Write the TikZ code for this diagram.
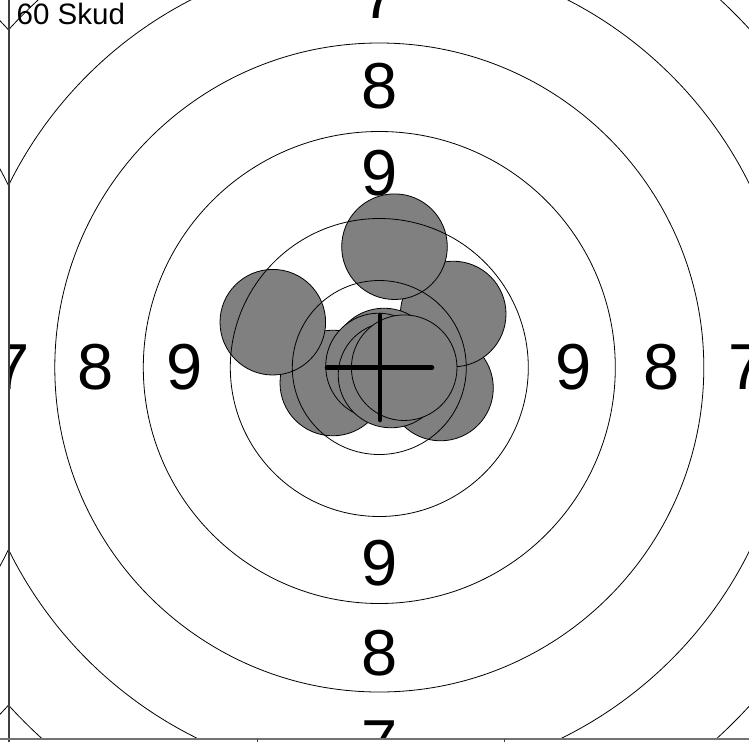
\documentclass[tikz,border=0pt]{standalone}
\usepackage{fontspec}
\setmainfont{Liberation Sans}

\begin{document}
\begin{tikzpicture}[x=1pt, y=-1pt,
		shot/.style={fill=gray, draw=black, line width=0.8pt},
		ring/.style={draw=black, line width=0.8pt},
		num/.style={font=\fontsize{65}{65}\selectfont, inner sep=0pt},
		spine/.style={draw=black!75, line width=2pt}]
			\useasboundingbox (0,0) rectangle (749,742);
			\coordinate (c) at (379.3,367.5);
			\coordinate (c2) at (-362.3,367.5);
			
			\begin{scope}
				\clip (8.5,0) rectangle (749,739);
				\foreach \x/\y in {440.5/388, 332.8/383, 453.2/314, 272.8/322.2, 384/361, 378.5/366, 391/375, 394.5/246.7, 404.2/367.7}
					\draw[shot] (\x,\y) circle (52.8pt);
				\foreach \r in {87,149,236,324.5,413,501.5}
					\draw[ring] (c) circle (\r pt);
				
				\node[num] (n9t) at (379.3,173.5) {9};
				\node[num] (n9b) at (379.3,563.3) {9};
				\node[num] (n9l) at (184.5,367.5) {9};
				\node[num] (n9r) at (573.5,367.5) {9};
				\node[num] (n8t) at (379.3,85.8) {8};
				\node[num] (n8b) at (379.3,653.3) {8};
				\node[num] (n8l) at (95.8,367.5) {8};
				\node[num] (n8r) at (661.7,367.5) {8};
				\node[num] (n7t) at (379.3,-3.5) {7};
				\node[num] (n7b) at (379.3,743.3) {7};
				\node[num] (n7l) at (12,367.5) {7};
				\node[num] (n7r) at (746.7,367.5) {7};
				
				\coordinate (hl) at (327,367.7);
				\coordinate (hr) at (432,367.7);
				\coordinate (vt) at (380,315);
				\coordinate (vb) at (380,420);
				\draw[line width=4.5pt, line cap=round] (hl) -- (hr) (vt) -- (vb);
				
				\node[anchor=base west, inner sep=0pt, font=\fontsize{29.5}{29.5}\selectfont] (title) at (16.5,24.3) {60 Skud};
			\end{scope}
			
			\begin{scope}
				\clip (0,0) rectangle (8.5,739);
				\foreach \r in {324.5,413,501.5}
					\draw[ring] (c2) circle (\r pt);
			\end{scope}
			
			\draw[spine] (8.5,0) -- (8.5,742);
			\draw[spine, draw=black!55] (0,739) -- (749,739);
			\foreach \x in {257,504}
				\draw[black!75, line width=1pt] (\x,739) -- (\x,742);
		\end{tikzpicture}
\end{document}
